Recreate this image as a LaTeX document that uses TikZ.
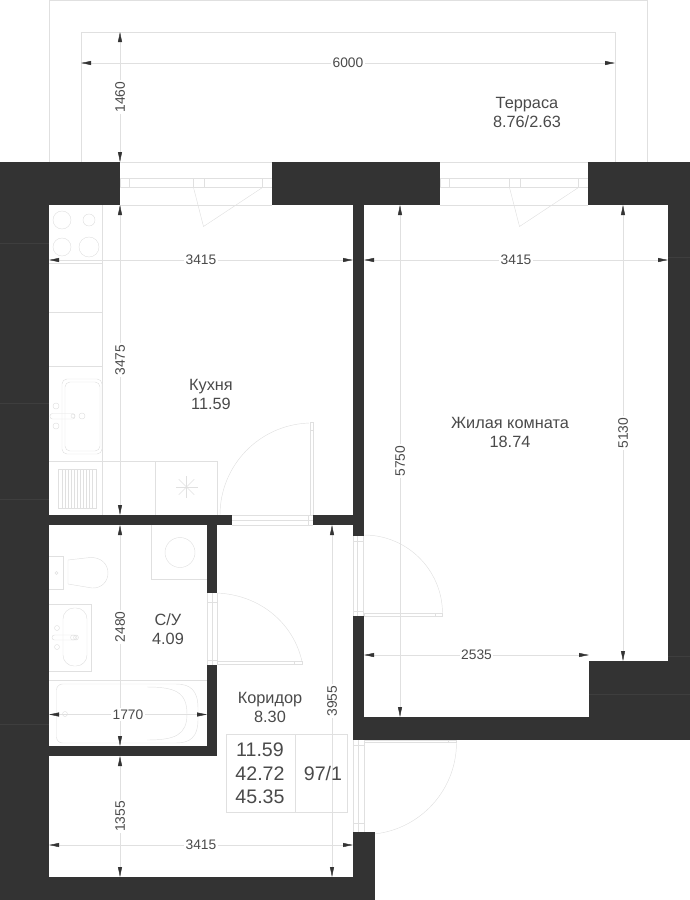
\documentclass[tikz,border=0pt]{standalone}
\usepackage{fontspec}
\setmainfont{Liberation Sans}
\usetikzlibrary{arrows.meta}
\usetikzlibrary{calc}
\definecolor{wallc}{HTML}{333333}
\definecolor{wallmarkc}{HTML}{3E3E3E}
\definecolor{linec}{HTML}{E0E0E0}
\definecolor{textc}{HTML}{4A4A4A}
\tikzset{
  thin line/.style={draw=linec,line width=0.45pt},
  dimline/.style={draw=linec,line width=0.45pt,<->},
  dimtext/.style={fill=white,inner sep=1.5pt,text=textc,font=\fontsize{13.8}{14}\selectfont},
  roomtext/.style={align=center,text=textc,font=\fontsize{16.3}{19}\selectfont},
  areatext/.style={text=textc,font=\fontsize{19.6}{20}\selectfont},
}
\begin{document}
\begin{tikzpicture}[x=1pt,y=-1pt,>={Triangle[length=10pt,width=4pt,color=wallc]}]
    \useasboundingbox (0,0) rectangle (690,900);
    \draw[thin line] (49,162) -- (49,0.5) -- (647.5,0.5) -- (647.5,162);
    \draw[thin line] (81,162) -- (81,32) -- (615,32) -- (615,162);
    \foreach \l/\r/\a/\b/\c/\d in {120/272/129.5/193.5/204.5/262.5,440/588/449.5/509.5/520.5/578.5} {
        \draw[thin line] (\l,162) -- (\r,162) (\l,205) -- (\r,205);
        \draw[thin line] (\l,178.5) rectangle (\r,187.5);
        \foreach \v in {\a,\b,\c,\d}
            \draw[thin line] (\v,178.5) -- (\v,187.5);
        \draw[thin line] (\b,187.5) -- ($(\b,226.5)+(10,0)$) -- (\d,187.5);
    }
    \draw[thin line] (102.5,205) -- (102.5,515);
    \foreach \y in {263,312.5,366,461}
        \draw[thin line] (49,\y) -- (102.5,\y);
    \foreach \x/\y/\r in {62/220/9,89/220/6,62/247/9,89/247/10}
        \draw[thin line] (\x,\y) circle (\r);
    \draw[thin line,rounded corners=5pt] (62,379) rectangle (102,454);
    \draw[thin line,rounded corners=5pt] (65,382) rectangle (100,451);
    \foreach \x/\y in {56/406,56/426,82/416}
        \draw[thin line] (\x,\y) circle (3);
    \draw[thin line,rounded corners=2.5pt] (50,413.5) rectangle (75,419);
    \draw[thin line] (73,416) circle (2);
    \draw[thin line] (102.5,461) -- (217.5,461) -- (217.5,515);
    \draw[thin line] (155,461) -- (155,515);
    \draw[thin line] (58.5,469) rectangle (96,508);
    \foreach \x in {62,65,...,94}
        \draw[thin line] (\x,469) -- (\x,508);
    \foreach \a in {0,45,...,315}
        \draw[thin line] (186.5,487) -- ++(\a:11);
    \draw[thin line] (232,515) -- (313,515) (232,520) -- (313,520) (232,525) -- (313,525) (308.5,515) -- (308.5,525);
    \draw[thin line] (310,515) -- (310,422) -- (313.5,422) -- (313.5,515) (310,430.5) -- (313.5,430.5);
    \draw[thin line] (220,515) arc[start angle=180,end angle=268,radius=92];
    \draw[thin line] (151.5,525) -- (151.5,579) -- (207,579);
    \draw[thin line] (180,552.5) circle (15);
    \draw[thin line] (49,556) -- (63,556) -- (63,589) -- (49,589);
    \draw[thin line] (68,560) -- (90,557.5) .. controls (101,557) and (108,564) .. (108,573) .. controls (108,582) and (101,588.5) .. (92,588) -- (68,584) -- cycle;
    \draw[thin line] (56.5,573) circle (1.5);
    \draw[thin line] (49,604) -- (91.5,604) -- (91.5,671) -- (49,671);
    \draw[thin line,rounded corners=11pt] (63,608) rectangle (87,666);
    \foreach \x/\y in {57/628,57/647}
        \draw[thin line] (\x,\y) circle (2.5);
    \foreach \x in {73,76}
        \draw[thin line] (\x,637.5) circle (2.5);
    \draw[thin line,rounded corners=2.5pt] (52,635) rectangle (77,640);
    \draw[thin line] (49,680) -- (207,680);
    \draw[thin line,rounded corners=6pt] (56.5,684) -- (170,684) .. controls (190,684) and (198,690) .. (198,714) .. controls (198,737) and (190,743) .. (170,743) -- (56.5,743) -- cycle;
    \draw[thin line] (147,687) .. controls (175,687) and (187,692) .. (187,714) .. controls (187,735) and (175,740) .. (147,740);
    \draw[thin line] (65,714) circle (2.5);
    \foreach \x in {207,212,217}
        \draw[thin line] (\x,593) -- (\x,665);
    \draw[thin line] (207,602.5) -- (217,602.5) (207,660) -- (217,660);
    \draw[thin line] (217,661.5) rectangle (302,664.5) (294,661.5) -- (294,664.5);
    \draw[thin line] (217,593) .. controls (262,595) and (294,625) .. (302,661.5);
    \foreach \x in {353,357.5,363}
        \draw[thin line] (\x,536) -- (\x,616);
    \draw[thin line] (353,541.5) -- (363,541.5) (353,611.5) -- (363,611.5);
    \draw[thin line] (364,613.5) rectangle (442.5,616) (435,613.5) -- (435,616);
    \draw[thin line] (364,535) arc[start angle=270,end angle=360,radius=78.5];
    \foreach \x in {353,358.5,364.5}
        \draw[thin line] (\x,740) -- (\x,832);
    \draw[thin line] (353,745) -- (364.5,745) (353,823) -- (364.5,823);
    \draw[thin line] (364,740.5) rectangle (456.5,742.5) (448,740.5) -- (448,742.5);
    \draw[thin line] (456.5,742.5) arc[start angle=0,end angle=90,radius=92];
    \draw[thin line] (226.5,734) rectangle (347.5,812.5);
    \draw[thin line] (295.5,734) -- (295.5,812.5);
    \foreach \xa/\ya/\xb/\yb in {0/162/120/205,272/162/440/205,588/162/690/205,0/205/49/900,668/205/690/740,353/205/364/536,
        49/515/232/525,313/515/364/525,207/525/217/593,207/665/217/756,49/746/217/756,353/616/364/740,
        353/717/690/740,589/661/668/717,353/832/375/900,0/877/375/900}
        \fill[wallc] (\xa,\ya) rectangle (\xb,\yb);
    \foreach \xa/\xb/\y in {0/49/243,0/49/403,0/49/499,0/49/724,668/690/257,668/690/656,589/690/694}
        \draw[wallmarkc,line width=0.4pt] (\xa,\y) -- (\xb,\y);
    \draw[dimline] (81,63) -- node[dimtext] (dimTerraceW) {6000} (615,63);
    \draw[dimline] (120,32) -- node[dimtext,rotate=90,pos=0.5] (dimTerraceH) {1460} (120,162);
    \draw[dimline] (120,205) -- node[dimtext,rotate=90,pos=0.5] (dimKitchenH) {3475} (120,515);
    \draw[dimline] (120,525) -- node[dimtext,rotate=90,pos=0.46] (dimBathH) {2480} (120,746);
    \draw[dimline] (120,756) -- node[dimtext,rotate=90,pos=0.5] (dimHallH) {1355} (120,877);
    \draw[dimline] (49,260) -- node[dimtext,pos=0.5] (dimKitchenW) {3415} (353,260);
    \draw[dimline] (364,260) -- node[dimtext,pos=0.5] (dimRoomW) {3415} (668,260);
    \draw[dimline] (400,205) -- node[dimtext,rotate=90,pos=0.5] (dimRoomL) {5750} (400,717);
    \draw[dimline] (623,205) -- node[dimtext,rotate=90,pos=0.5] (dimRoomS) {5130} (623,661);
    \draw[dimline] (364,655) -- node[dimtext,pos=0.5] (dimRoomN) {2535} (589,655);
    \draw[dimline] (332,525) -- node[dimtext,rotate=90,pos=0.5] (dimHallL) {3955} (332,877);
    \draw[dimline] (49,714.5) -- node[dimtext,pos=0.5] (dimBathW) {1770} (207,714.5);
    \draw[dimline] (49,845) -- node[dimtext,pos=0.5] (dimHallW) {3415} (353,845);
    \node[roomtext] (terrace) at (527,112.5) {Терраса\\8.76/2.63};
    \node[roomtext] (kitchen) at (211,394) {Кухня\\11.59};
    \node[roomtext] (living) at (510,432.5) {Жилая комната\\18.74};
    \node[roomtext] (bath) at (168,629.5) {С/У\\4.09};
    \node[roomtext] (hall) at (270,707.5) {Коридор\\8.30};
    \foreach \n/\y/\t in {areaA/750/11.59,areaB/774/42.72,areaC/797/45.35}
        \node[areatext] (\n) at (260,\y) {\t};
    \node[areatext] (flat) at (323,773) {97/1};
\end{tikzpicture}
\end{document}
